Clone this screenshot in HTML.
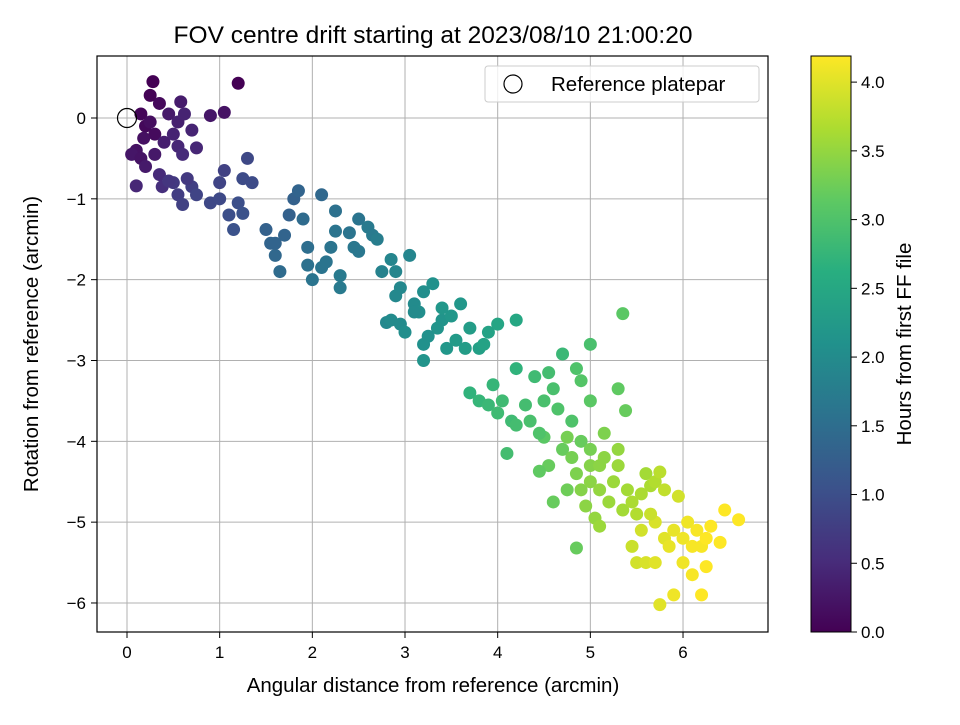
<!DOCTYPE html>
<html><head><meta charset="utf-8">
<style>
body{margin:0;background:#fff;}
svg text{font-family:"Liberation Sans","DejaVu Sans",sans-serif;fill:#000;}
</style></head>
<body>
<svg id="chart" width="960" height="720" viewBox="0 0 960 720">
<defs>
<linearGradient id="vir" x1="0" y1="1" x2="0" y2="0">
<stop offset="0" stop-color="#440154"/><stop offset="0.125" stop-color="#472d7b"/>
<stop offset="0.25" stop-color="#3b528b"/><stop offset="0.375" stop-color="#2c728e"/>
<stop offset="0.5" stop-color="#21918c"/><stop offset="0.625" stop-color="#28ae80"/>
<stop offset="0.75" stop-color="#5ec962"/><stop offset="0.875" stop-color="#addc30"/>
<stop offset="1" stop-color="#fde725"/>
</linearGradient>
</defs>
<text x="433" y="43" font-size="24.5" text-anchor="middle">FOV centre drift starting at 2023/08/10 21:00:20</text>
<g id="grid"></g>
<g id="points"></g>
<rect x="97" y="56" width="671" height="576" fill="none" stroke="#000" stroke-width="1.2"/>
<g id="ticks"></g>
<text x="433" y="692" font-size="20.5" text-anchor="middle">Angular distance from reference (arcmin)</text>
<text x="38" y="344" font-size="20.5" text-anchor="middle" transform="rotate(-90 38 344)">Rotation from reference (arcmin)</text>
<g>
<rect x="485" y="66" width="274" height="36" rx="3" fill="#fff" fill-opacity="0.8" stroke="#ccc"/>
<circle cx="513" cy="84" r="9" fill="none" stroke="#000" stroke-width="1.2"/>
<text x="551" y="91" font-size="20.5">Reference platepar</text>
</g>
<rect x="811" y="56" width="40" height="576" fill="url(#vir)" stroke="#000" stroke-width="1"/>
<g id="cbticks"></g>
<text x="911" y="344" font-size="20.5" text-anchor="middle" transform="rotate(-90 911 344)">Hours from first FF file</text>
</svg>
<script>
const xTicks=[0,1,2,3,4,5,6];
const yTicks=[0,-1,-2,-3,-4,-5,-6];
const cTicks=[0.0,0.5,1.0,1.5,2.0,2.5,3.0,3.5,4.0];
const xs=[0.15,0.28,0.25,0.35,0.2,0.3,0.1,0.05,0.15,0.2,0.3,0.4,0.45,0.55,0.58,0.62,0.7,0.75,0.9,1.05,1.2,0.35,0.38,0.1,0.5,0.55,0.6,0.25,0.18,
0.5,0.55,0.6,0.7,0.75,0.9,1.0,1.05,1.1,1.15,1.2,1.25,1.3,1.35,1.0,1.25,0.65,0.45,
1.5,1.55,1.6,1.65,1.7,1.75,1.8,1.85,1.9,1.95,1.95,2.0,2.1,2.1,2.2,2.25,2.25,2.3,2.3,2.4,2.45,2.5,2.5,2.6,2.65,2.7,2.15,1.6,
2.75,2.85,2.9,2.9,2.95,2.8,2.85,2.95,3.0,3.05,3.1,3.15,3.2,3.2,3.2,3.3,3.35,3.4,3.45,3.5,3.55,3.6,3.65,3.7,3.8,3.85,3.9,4.0,4.2,3.1,3.25,3.4,
3.7,3.8,3.9,3.95,4.0,4.05,4.1,4.15,4.2,4.3,4.35,4.4,4.5,4.55,4.6,4.65,4.7,4.8,4.85,4.9,5.0,5.0,5.35,5.3,5.38,4.5,4.55,4.45,4.6,4.7,4.75,4.85,4.2,4.45,4.9,
4.8,4.85,4.9,4.95,5.0,5.0,5.05,5.1,5.1,5.15,5.2,5.25,5.3,5.3,5.35,5.4,5.45,5.5,5.55,5.6,5.65,5.7,5.0,5.15,4.75,5.1,
5.45,5.5,5.55,5.6,5.7,5.7,5.75,5.8,5.85,5.9,5.9,5.95,6.0,6.05,6.1,6.1,6.15,6.2,6.2,6.25,6.3,6.4,6.45,6.6,5.75,5.8,5.65,6.0,6.25];
const ys=[0.05,0.45,0.28,0.18,-0.1,-0.2,-0.4,-0.45,-0.5,-0.6,-0.45,-0.3,0.05,-0.05,0.2,0.05,-0.15,-0.37,0.03,0.07,0.43,-0.7,-0.85,-0.84,-0.2,-0.35,-0.45,-0.05,-0.25,
-0.8,-0.95,-1.07,-0.85,-0.95,-1.05,-0.8,-0.65,-1.2,-1.38,-1.05,-0.75,-0.5,-0.8,-1.0,-1.18,-0.75,-0.78,
-1.38,-1.55,-1.7,-1.9,-1.45,-1.2,-1.0,-0.9,-1.25,-1.6,-1.82,-2.0,-0.95,-1.85,-1.6,-1.15,-1.4,-2.1,-1.95,-1.42,-1.6,-1.65,-1.25,-1.35,-1.45,-1.5,-1.78,-1.55,
-1.9,-1.75,-1.9,-2.2,-2.1,-2.53,-2.5,-2.55,-2.65,-1.7,-2.3,-2.4,-2.15,-2.8,-3.0,-2.05,-2.6,-2.5,-2.85,-2.45,-2.75,-2.3,-2.85,-2.6,-2.85,-2.8,-2.65,-2.55,-2.5,-2.4,-2.7,-2.35,
-3.4,-3.5,-3.55,-3.3,-3.65,-3.5,-4.15,-3.75,-3.1,-3.55,-3.75,-3.2,-3.5,-3.15,-3.35,-3.6,-2.92,-3.75,-3.1,-3.25,-2.8,-3.5,-2.42,-3.35,-3.62,-3.95,-4.3,-4.37,-4.75,-4.1,-4.6,-5.32,-3.8,-3.9,-4.0,
-4.2,-4.4,-4.6,-4.8,-4.3,-4.5,-4.95,-4.3,-4.6,-4.2,-4.75,-4.5,-4.1,-4.3,-4.85,-4.6,-4.75,-4.9,-4.65,-4.4,-4.55,-4.5,-4.1,-3.9,-3.95,-5.05,
-5.3,-5.5,-5.1,-5.5,-5.0,-5.5,-6.02,-5.2,-5.3,-5.1,-5.9,-4.68,-5.2,-5.0,-5.3,-5.65,-5.1,-5.9,-5.3,-5.55,-5.05,-5.25,-4.85,-4.97,-4.38,-4.6,-4.9,-5.5,-5.2];
const hours=[0.05,0.0,0.02,0.1,0.08,0.12,0.2,0.25,0.22,0.3,0.28,0.35,0.3,0.38,0.32,0.4,0.42,0.45,0.25,0.2,0.0,0.5,0.55,0.45,0.4,0.45,0.5,0.15,0.18,
0.7,0.75,0.8,0.78,0.85,0.9,0.85,0.8,1.0,1.05,1.0,0.95,0.9,0.95,0.92,1.05,0.7,0.65,
1.3,1.35,1.4,1.45,1.35,1.3,1.3,1.35,1.45,1.5,1.55,1.6,1.4,1.6,1.6,1.55,1.6,1.7,1.7,1.6,1.65,1.65,1.6,1.7,1.7,1.75,1.6,1.35,
1.85,1.9,1.9,1.95,1.95,1.95,2.0,2.0,2.05,1.9,2.0,2.05,2.05,2.1,2.15,2.1,2.15,2.15,2.2,2.2,2.25,2.2,2.3,2.3,2.35,2.4,2.4,2.45,2.5,2.0,2.1,2.2,
2.7,2.75,2.8,2.75,2.85,2.85,2.9,2.85,2.7,2.9,2.95,2.85,2.95,2.9,2.95,3.0,2.8,3.0,3.0,3.05,2.95,3.1,3.1,3.15,3.2,3.1,3.2,3.15,3.2,3.2,3.25,3.2,2.9,3.0,3.2,
3.3,3.35,3.4,3.45,3.4,3.45,3.5,3.45,3.5,3.45,3.55,3.55,3.5,3.55,3.6,3.6,3.65,3.7,3.65,3.6,3.65,3.7,3.3,3.35,3.3,3.55,
3.85,3.9,3.9,3.95,3.95,4.0,4.0,4.0,4.05,4.05,4.1,3.9,4.1,4.1,4.15,4.15,4.15,4.2,4.15,4.2,4.2,4.2,4.2,4.2,3.75,3.8,3.85,4.1,4.2];
const X0=127,XS=92.67,Y0=118,YS=80.83,HMAX=4.19;
function xp(v){return X0+v*XS;}
function yp(v){return Y0-v*YS;}
function cp(v){return 632-v/HMAX*576;}
const VIR=[[68,1,84],[71,45,123],[59,82,139],[44,114,142],[33,145,140],[40,174,128],[94,201,98],[173,220,48],[253,231,37]];
function vir(t){t=Math.max(0,Math.min(1,t))*8;const i=Math.min(7,Math.floor(t)),f=t-i,a=VIR[i],b=VIR[i+1];
return 'rgb('+a.map((c,k)=>Math.round(c+(b[k]-c)*f)).join(',')+')';}
const NS='http://www.w3.org/2000/svg';
function mk(tag,attrs,parent,txt){const e=document.createElementNS(NS,tag);for(const k in attrs)e.setAttribute(k,attrs[k]);if(txt!==undefined)e.textContent=txt;parent.appendChild(e);return e;}
const grid=document.getElementById('grid'),ticks=document.getElementById('ticks'),pts=document.getElementById('points'),cb=document.getElementById('cbticks');
xTicks.forEach(v=>{const x=xp(v);
const g=mk('line',{x1:x,x2:x,y1:56,y2:632,stroke:'#b0b0b0','stroke-width':1},grid);


mk('line',{x1:x,x2:x,y1:632,y2:638,stroke:'#000'},ticks);
const t=mk('text',{x:x,y:658,'font-size':17,'text-anchor':'middle'},ticks,String(v));

});
yTicks.forEach(v=>{const y=yp(v);
const g=mk('line',{x1:97,x2:768,y1:y,y2:y,stroke:'#b0b0b0','stroke-width':1},grid);


mk('line',{x1:91,x2:97,y1:y,y2:y,stroke:'#000'},ticks);
const t=mk('text',{x:86,y:y+6,'font-size':17,'text-anchor':'end'},ticks,v<0?'\u2212'+Math.abs(v):String(v));

});
for(let i=0;i<xs.length;i++){
const c=mk('circle',{cx:xp(xs[i]),cy:yp(ys[i]),r:6.5,fill:vir(hours[i]/HMAX)},pts);

}
const ref=mk('circle',{cx:xp(0),cy:yp(0),r:9.5,fill:'none',stroke:'#000','stroke-width':1.2},pts);


cTicks.forEach(v=>{const y=cp(v);
mk('line',{x1:851,x2:857,y1:y,y2:y,stroke:'#000'},cb);
const t=mk('text',{x:861,y:y+6,'font-size':17},cb,v.toFixed(1));

});
</script>
</body></html>
